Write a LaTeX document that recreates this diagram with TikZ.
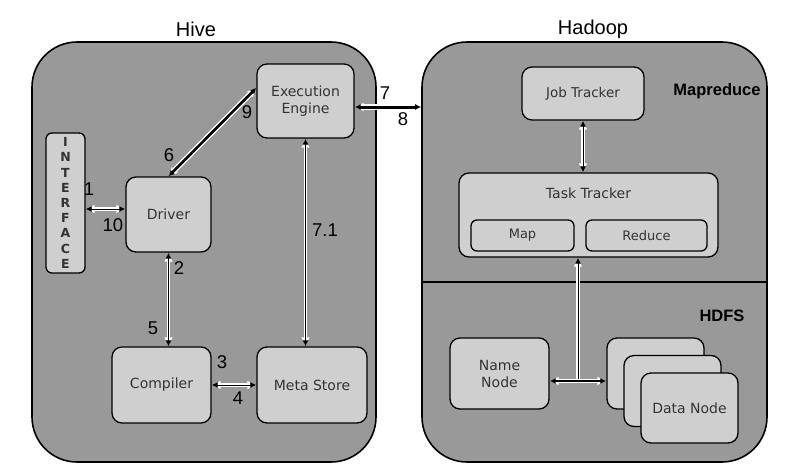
\documentclass[tikz,border=0pt]{standalone}
\usepackage{fontspec}
\setmainfont{Liberation Sans}
\newfontfamily\boxfont{DejaVu Sans}
\usetikzlibrary{arrows.meta}
\definecolor{panelgray}{gray}{0.6}
\definecolor{unitgray}{gray}{0.81}

\tikzset{
	panel/.style={draw,line width=1.6pt,fill=panelgray,rounded corners=45pt,inner sep=0pt},
	unit/.style={draw,line width=1.3pt,fill=unitgray,rounded corners=10pt,inner sep=0pt,align=center,
		text=black!80,font=\boxfont\fontsize{14}{17}\selectfont},
	link/.style={line width=#1,arrows={Latex[length=6pt,width=6pt]-Latex[length=6pt,width=6pt]},
		preaction={draw=white,line width=#1+2.8pt,arrows={Latex[length=9pt,width=9pt]-Latex[length=9pt,width=9pt]}}},
	link/.default=1pt,
	feed/.style={line width=1pt,arrows={-Latex[length=6pt,width=6pt]},
		preaction={draw=white,line width=3.8pt,arrows={-Latex[length=9pt,width=9pt]}}},
	num/.style={font=\fontsize{18.5}{20}\selectfont,inner sep=0pt},
	tag/.style={font=\bfseries\fontsize{16.5}{18}\selectfont,inner sep=0pt}
}

\begin{document}
\begin{tikzpicture}[x=1pt,y=-1pt]
	\useasboundingbox (0,0) rectangle (805,469);

	% the two systems
	\node[panel,minimum width=344,minimum height=420] (hive) at (204,252) {};
	\node[panel,minimum width=345,minimum height=420] (hadoop) at (594.5,252) {};
	\draw[line width=1.3pt] (hadoop.west |- 0,282) -- (hadoop.east |- 0,282);
	\node[font=\fontsize{20}{22}\selectfont] (hivetitle) at (196,29) {Hive};
	\node[font=\fontsize{20}{22}\selectfont] (hadooptitle) at (593,29) {Hadoop};
	\node[tag] (mrtag) at (717,91) {Mapreduce};
	\node[tag] (hdfstag) at (722,316) {HDFS};

	% hive side
	\node[unit,minimum width=97,minimum height=74] (exec) at (305.5,101) {Execution\\Engine};
	\node[unit,minimum width=39,minimum height=140,rounded corners=6pt,
		font=\boxfont\bfseries\fontsize{12.5}{15.2}\selectfont] (iface) at (65.5,203) {I\\N\\T\\E\\R\\F\\A\\C\\E};
	\node[unit,minimum width=85,minimum height=75] (driver) at (168.5,214.5) {Driver};
	\node[unit,minimum width=99,minimum height=76] (compiler) at (161.5,385) {Compiler};
	\node[unit,minimum width=110,minimum height=76] (meta) at (312,385) {Meta Store};

	% hadoop side
	\node[unit,minimum width=122,minimum height=53,font=\boxfont\fontsize{13.5}{16}\selectfont] (job) at (583,93.5) {Job Tracker};
	\node[unit,minimum width=259,minimum height=84] (task) at (588.5,215) {};
	\node[text=black!80,font=\boxfont\fontsize{14}{17}\selectfont] (tasktitle) at (588.5,193) {Task Tracker};
	\node[unit,minimum width=103,minimum height=31,rounded corners=6pt,font=\boxfont\fontsize{13}{15}\selectfont] (map) at (522.5,235.5) {Map};
	\node[unit,minimum width=121,minimum height=31,rounded corners=6pt,font=\boxfont\fontsize{13}{15}\selectfont] (reduce) at (646.5,235.5) {Reduce};
	\node[unit,minimum width=99,minimum height=71] (name) at (499.5,373.5) {Name\\Node};
	\node[unit,minimum width=97,minimum height=71] (data1) at (655.5,373.5) {};
	\node[unit,minimum width=97,minimum height=71] (data2) at (672.5,391) {};
	\node[unit,minimum width=97,minimum height=70] (data3) at (689.5,408) {Data Node};

	% connectors
	\coordinate (ifport) at ([yshift=-6pt]iface.east);
	\coordinate (export) at ([yshift=-6pt]exec.east);
	\coordinate (hub) at (578,381);
	\draw[link] (ifport) -- (ifport -| driver.west);
	\draw[link=2.6pt] (driver.north) -- (exec.165);
	\draw[link] (driver.south) -- (driver.south |- compiler.north);
	\draw[link] (compiler.east) -- (meta.west);
	\draw[link] (exec.south) -- (exec.south |- meta.north);
	\draw[link=3pt] (export) -- (export -| hadoop.west);
	\draw[link] (job.south) -- (job.south |- task.north);
	\draw[feed] (hub) -- (hub |- task.south);
	\draw[link=1.4pt] (name.east |- hub) -- (data1.west |- hub);

	% step numbers
	\node[num] (s1) at (89,189) {1};
	\node[num] (s10) at (113,225) {10};
	\node[num] (s6) at (169,155) {6};
	\node[num] (s9) at (247,112) {9};
	\node[num] (s2) at (179,268) {2};
	\node[num] (s5) at (153,328) {5};
	\node[num] (s3) at (222,362) {3};
	\node[num] (s4) at (238,398) {4};
	\node[num] (s71) at (325,230) {7.1};
	\node[num] (s7) at (385,93) {7};
	\node[num] (s8) at (403,119) {8};
\end{tikzpicture}
\end{document}
